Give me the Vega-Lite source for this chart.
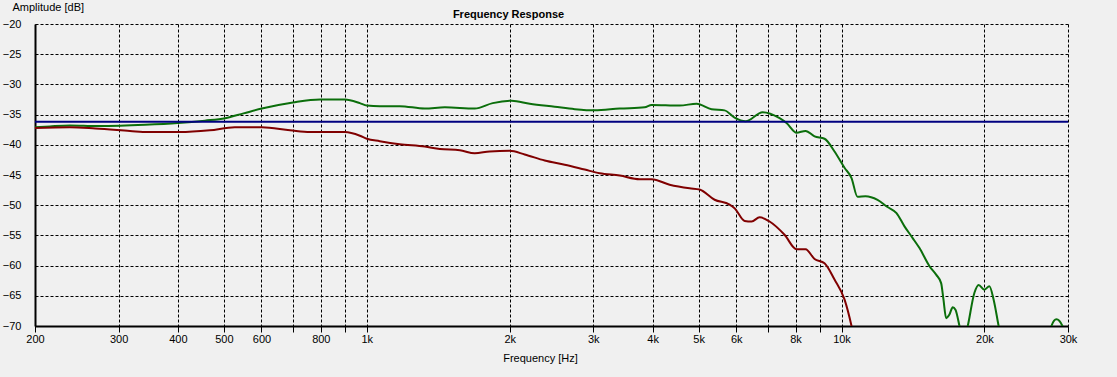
{
  "$schema": "https://vega.github.io/schema/vega-lite/v6.json",
  "width": 1033,
  "height": 302,
  "autosize": {"type": "none"},
  "padding": {"left": 35, "top": 24, "right": 49, "bottom": 51},
  "background": "#f0f0f0",
  "config": {
    "view": {"stroke": null},
    "font": "Liberation Sans",
    "axis": {"labelFont": "Liberation Sans", "titleFont": "Liberation Sans", "labelFontSize": 11, "titleFontSize": 11, "titleFontWeight": "normal", "labelColor": "#000000", "titleColor": "#000000"}
  },
  "title": {"text": "Frequency Response", "anchor": "middle", "dx": -43, "dy": 23, "offset": 4, "fontSize": 11, "fontWeight": "bold", "font": "Liberation Sans", "color": "#000000"},
  "data": {
    "values": [
      {"series": "green", "freq": 200, "db": -37.1},
      {"series": "green", "freq": 215, "db": -36.95},
      {"series": "green", "freq": 237, "db": -36.8},
      {"series": "green", "freq": 270, "db": -36.9},
      {"series": "green", "freq": 302, "db": -36.85},
      {"series": "green", "freq": 341, "db": -36.7},
      {"series": "green", "freq": 400, "db": -36.4},
      {"series": "green", "freq": 456, "db": -36.0},
      {"series": "green", "freq": 503, "db": -35.6},
      {"series": "green", "freq": 550, "db": -34.8},
      {"series": "green", "freq": 601, "db": -34.0},
      {"series": "green", "freq": 699, "db": -33.0},
      {"series": "green", "freq": 797, "db": -32.5},
      {"series": "green", "freq": 899, "db": -32.5},
      {"series": "green", "freq": 967, "db": -33.1},
      {"series": "green", "freq": 1000, "db": -33.5},
      {"series": "green", "freq": 1065, "db": -33.6},
      {"series": "green", "freq": 1173, "db": -33.6},
      {"series": "green", "freq": 1325, "db": -34.0},
      {"series": "green", "freq": 1460, "db": -33.8},
      {"series": "green", "freq": 1688, "db": -34.0},
      {"series": "green", "freq": 1842, "db": -33.1},
      {"series": "green", "freq": 2019, "db": -32.7},
      {"series": "green", "freq": 2204, "db": -33.2},
      {"series": "green", "freq": 2488, "db": -33.7},
      {"series": "green", "freq": 2742, "db": -34.1},
      {"series": "green", "freq": 3020, "db": -34.3},
      {"series": "green", "freq": 3410, "db": -34.0},
      {"series": "green", "freq": 3849, "db": -33.8},
      {"series": "green", "freq": 3981, "db": -33.4},
      {"series": "green", "freq": 4560, "db": -33.5},
      {"series": "green", "freq": 4951, "db": -33.2},
      {"series": "green", "freq": 5325, "db": -34.1},
      {"series": "green", "freq": 5671, "db": -34.3},
      {"series": "green", "freq": 5953, "db": -35.5},
      {"series": "green", "freq": 6281, "db": -36.1},
      {"series": "green", "freq": 6821, "db": -34.6},
      {"series": "green", "freq": 7406, "db": -35.6},
      {"series": "green", "freq": 7660, "db": -36.4},
      {"series": "green", "freq": 8043, "db": -38.0},
      {"series": "green", "freq": 8401, "db": -37.7},
      {"series": "green", "freq": 8775, "db": -38.6},
      {"series": "green", "freq": 9209, "db": -39.0},
      {"series": "green", "freq": 9667, "db": -41.1},
      {"series": "green", "freq": 10146, "db": -43.8},
      {"series": "green", "freq": 10498, "db": -45.5},
      {"series": "green", "freq": 10807, "db": -48.6},
      {"series": "green", "freq": 11234, "db": -48.5},
      {"series": "green", "freq": 11909, "db": -49.1},
      {"series": "green", "freq": 12500, "db": -50.3},
      {"series": "green", "freq": 13057, "db": -51.3},
      {"series": "green", "freq": 13573, "db": -53.5},
      {"series": "green", "freq": 14111, "db": -55.4},
      {"series": "green", "freq": 14598, "db": -57.1},
      {"series": "green", "freq": 15324, "db": -60.1},
      {"series": "green", "freq": 15826, "db": -61.5},
      {"series": "green", "freq": 16213, "db": -62.9},
      {"series": "green", "freq": 16397, "db": -65.6},
      {"series": "green", "freq": 16610, "db": -68.7},
      {"series": "green", "freq": 16880, "db": -68.1},
      {"series": "green", "freq": 17150, "db": -66.9},
      {"series": "green", "freq": 17380, "db": -67.3},
      {"series": "green", "freq": 17722, "db": -70.0},
      {"series": "green", "freq": 18080, "db": -73.0},
      {"series": "green", "freq": 18450, "db": -70.0},
      {"series": "green", "freq": 19055, "db": -64.5},
      {"series": "green", "freq": 19450, "db": -63.2},
      {"series": "green", "freq": 20000, "db": -64.0},
      {"series": "green", "freq": 20490, "db": -63.4},
      {"series": "green", "freq": 20910, "db": -65.6},
      {"series": "green", "freq": 21430, "db": -70.0},
      {"series": "green", "freq": 22500, "db": -78.0},
      {"series": "green", "freq": 26500, "db": -78.0},
      {"series": "green", "freq": 27680, "db": -70.0},
      {"series": "green", "freq": 28360, "db": -68.9},
      {"series": "green", "freq": 29200, "db": -70.0},
      {"series": "green", "freq": 30000, "db": -73.0},
      {"series": "red", "freq": 200, "db": -37.2},
      {"series": "red", "freq": 237, "db": -37.1},
      {"series": "red", "freq": 268, "db": -37.3},
      {"series": "red", "freq": 317, "db": -37.7},
      {"series": "red", "freq": 346, "db": -37.9},
      {"series": "red", "freq": 404, "db": -37.9},
      {"series": "red", "freq": 467, "db": -37.6},
      {"series": "red", "freq": 527, "db": -37.1},
      {"series": "red", "freq": 601, "db": -37.1},
      {"series": "red", "freq": 689, "db": -37.6},
      {"series": "red", "freq": 759, "db": -37.9},
      {"series": "red", "freq": 899, "db": -37.9},
      {"series": "red", "freq": 967, "db": -38.5},
      {"series": "red", "freq": 1000, "db": -39.0},
      {"series": "red", "freq": 1065, "db": -39.4},
      {"series": "red", "freq": 1173, "db": -39.9},
      {"series": "red", "freq": 1325, "db": -40.3},
      {"series": "red", "freq": 1425, "db": -40.7},
      {"series": "red", "freq": 1570, "db": -40.9},
      {"series": "red", "freq": 1688, "db": -41.4},
      {"series": "red", "freq": 1815, "db": -41.1},
      {"series": "red", "freq": 2000, "db": -41.0},
      {"series": "red", "freq": 2151, "db": -41.6},
      {"series": "red", "freq": 2370, "db": -42.6},
      {"series": "red", "freq": 2612, "db": -43.3},
      {"series": "red", "freq": 2878, "db": -44.1},
      {"series": "red", "freq": 3094, "db": -44.7},
      {"series": "red", "freq": 3410, "db": -45.1},
      {"series": "red", "freq": 3756, "db": -45.7},
      {"series": "red", "freq": 3981, "db": -45.7},
      {"series": "red", "freq": 4344, "db": -46.6},
      {"series": "red", "freq": 4786, "db": -47.2},
      {"series": "red", "freq": 5023, "db": -47.4},
      {"series": "red", "freq": 5403, "db": -49.1},
      {"series": "red", "freq": 5810, "db": -49.9},
      {"series": "red", "freq": 5953, "db": -50.5},
      {"series": "red", "freq": 6251, "db": -52.6},
      {"series": "red", "freq": 6466, "db": -52.7},
      {"series": "red", "freq": 6723, "db": -52.0},
      {"series": "red", "freq": 7055, "db": -52.7},
      {"series": "red", "freq": 7586, "db": -54.9},
      {"series": "red", "freq": 8043, "db": -57.3},
      {"series": "red", "freq": 8401, "db": -57.3},
      {"series": "red", "freq": 8775, "db": -58.9},
      {"series": "red", "freq": 9209, "db": -59.6},
      {"series": "red", "freq": 9667, "db": -62.3},
      {"series": "red", "freq": 10146, "db": -65.6},
      {"series": "red", "freq": 10498, "db": -70.0},
      {"series": "red", "freq": 10750, "db": -74.0},
      {"series": "zblue", "freq": 200, "db": -36.2},
      {"series": "zblue", "freq": 30000, "db": -36.2}
    ]
  },
  "mark": {"type": "line", "clip": true, "strokeWidth": 2, "interpolate": "monotone"},
  "encoding": {
    "x": {
      "field": "freq", "type": "quantitative",
      "scale": {"type": "log", "domain": [200, 30000], "nice": false},
      "axis": {
        "title": "Frequency [Hz]",
        "values": [200, 300, 400, 500, 600, 700, 800, 900, 1000, 2000, 3000, 4000, 5000, 6000, 7000, 8000, 9000, 10000, 20000, 30000],
        "labelExpr": "(datum.value == 700 || datum.value == 900 || datum.value == 7000 || datum.value == 9000) ? '' : (datum.value >= 1000 ? (datum.value / 1000) + 'k' : '' + datum.value)",
        "grid": true, "gridColor": "#000000", "gridDash": [3, 2], "gridOpacity": 1, "gridWidth": 1,
        "domainColor": "#000000", "domainWidth": 2,
        "tickColor": "#000000", "tickSize": 6, "labelPadding": 1,
        "labelFlush": false, "labelOverlap": false,
        "titleX": 505, "titleY": 32, "titleBaseline": "middle", "titleAlign": "center"
      }
    },
    "y": {
      "field": "db", "type": "quantitative",
      "scale": {"domain": [-70, -20], "nice": false, "zero": false},
      "axis": {
        "title": "Amplitude [dB]",
        "values": [-70, -65, -60, -55, -50, -45, -40, -35, -30, -25, -20],
        "grid": true, "gridColor": "#000000", "gridDash": [3, 2], "gridOpacity": 1, "gridWidth": 1,
        "domainColor": "#000000", "domainWidth": 2,
        "ticks": false, "labelPadding": 14,
        "labelFlush": false, "labelOverlap": false,
        "titleAngle": 0, "titleX": -23, "titleY": -17, "titleAlign": "left", "titleBaseline": "middle"
      }
    },
    "color": {
      "field": "series", "type": "nominal",
      "scale": {"domain": ["green", "red", "zblue"], "range": ["#0b6e0b", "#800000", "#000080"]},
      "legend": null
    }
  }
}
